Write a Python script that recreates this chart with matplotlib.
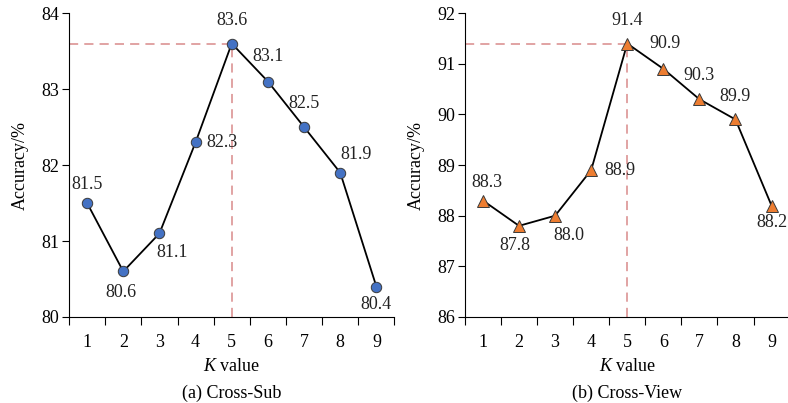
import matplotlib
matplotlib.use('Agg')
import matplotlib.pyplot as plt

# Datos
k_values = [1, 2, 3, 4, 5, 6, 7, 8, 9]
acc_cross_sub = [81.5, 80.6, 81.1, 82.3, 83.6, 83.1, 82.5, 81.9, 80.4]
acc_cross_view = [88.3, 87.8, 88.0, 88.9, 91.4, 90.9, 90.3, 89.9, 88.2]

# desplazamiento de las etiquetas (en puntos)
offsets_sub = [(0, 13), (-2, -15), (9, -14), (19, 0), (0, 16.5), (0, 18), (0, 17), (11.5, 13), (0, -13)]
offsets_view = [(3, 13), (-3, -14), (10, -14), (21, 0), (0, 16.5), (1, 18), (0, 17), (0, 16.5), (0, -12)]

plt.rcParams['font.family'] = ['Liberation Serif', 'DejaVu Serif']
plt.rcParams['mathtext.fontset'] = 'custom'
plt.rcParams['mathtext.it'] = 'Liberation Serif:italic'
plt.rcParams['mathtext.rm'] = 'Liberation Serif'

FS = 13


def draw_panel(ax, values, ylim, marker, color, msize, offsets, caption):
    best = max(values)
    best_k = k_values[values.index(best)]
    # lineas de referencia del maximo
    ax.plot([0.5, best_k], [best, best], linestyle=(0, (6, 4)), color='#d98a8a', lw=1.1, zorder=1)
    ax.plot([best_k, best_k], [ylim[0], best], linestyle=(0, (6, 4)), color='#d98a8a', lw=1.1, zorder=1)

    ax.plot(k_values, values, color='black', lw=1.3, zorder=2)
    ax.plot(k_values, values, linestyle='none', marker=marker, markersize=msize,
            markerfacecolor=color, markeredgecolor='#3a3a3a', markeredgewidth=0.7, zorder=3)

    for k, v, off in zip(k_values, values, offsets):
        ax.annotate(f'{v:.1f}', (k, v), textcoords='offset points', xytext=off,
                    ha='center', va='center', fontsize=FS, color='#222222')

    ax.set_xlim(0.5, 9.5)
    ax.set_ylim(*ylim)
    ax.set_yticks(range(ylim[0], ylim[1] + 1))
    ax.set_xticks([x + 0.5 for x in range(0, 10)])
    ax.set_xticklabels([])
    ax.set_xticks(k_values, minor=True)
    ax.set_xticklabels([str(k) for k in k_values], minor=True)
    ax.tick_params(axis='x', which='minor', length=0, pad=12.5, labelsize=FS)
    ax.tick_params(axis='x', which='major', length=5.5, width=0.8, direction='out')
    ax.tick_params(axis='y', length=5, width=0.8, labelsize=FS, pad=2)
    for s in ['top', 'right']:
        ax.spines[s].set_visible(False)
    ax.spines['left'].set_linewidth(0.8)
    ax.spines['bottom'].set_linewidth(0.8)

    ax.set_ylabel('Accuracy/%', fontsize=FS)
    ax.yaxis.set_label_coords(-0.15, 0.5)
    ax.yaxis.label.set_va('center')
    ax.set_xlabel('$K$ value', fontsize=FS)
    ax.xaxis.set_label_coords(0.5, -0.135)
    ax.text(0.5, -0.25, caption, transform=ax.transAxes, ha='center', va='center', fontsize=FS)


fig = plt.figure(figsize=(7.88, 4.03), dpi=100)
ax1 = fig.add_axes([0.0876, 0.2134, 0.413, 0.754])
ax2 = fig.add_axes([0.590, 0.2134, 0.412, 0.754])

draw_panel(ax1, acc_cross_sub, (80, 84), 'o', '#4472c4', 7.5, offsets_sub, '(a) Cross-Sub')
draw_panel(ax2, acc_cross_view, (86, 92), '^', '#ed7d31', 8, offsets_view, '(b) Cross-View')

fig.savefig('out.png', dpi=100)
plt.close(fig)
